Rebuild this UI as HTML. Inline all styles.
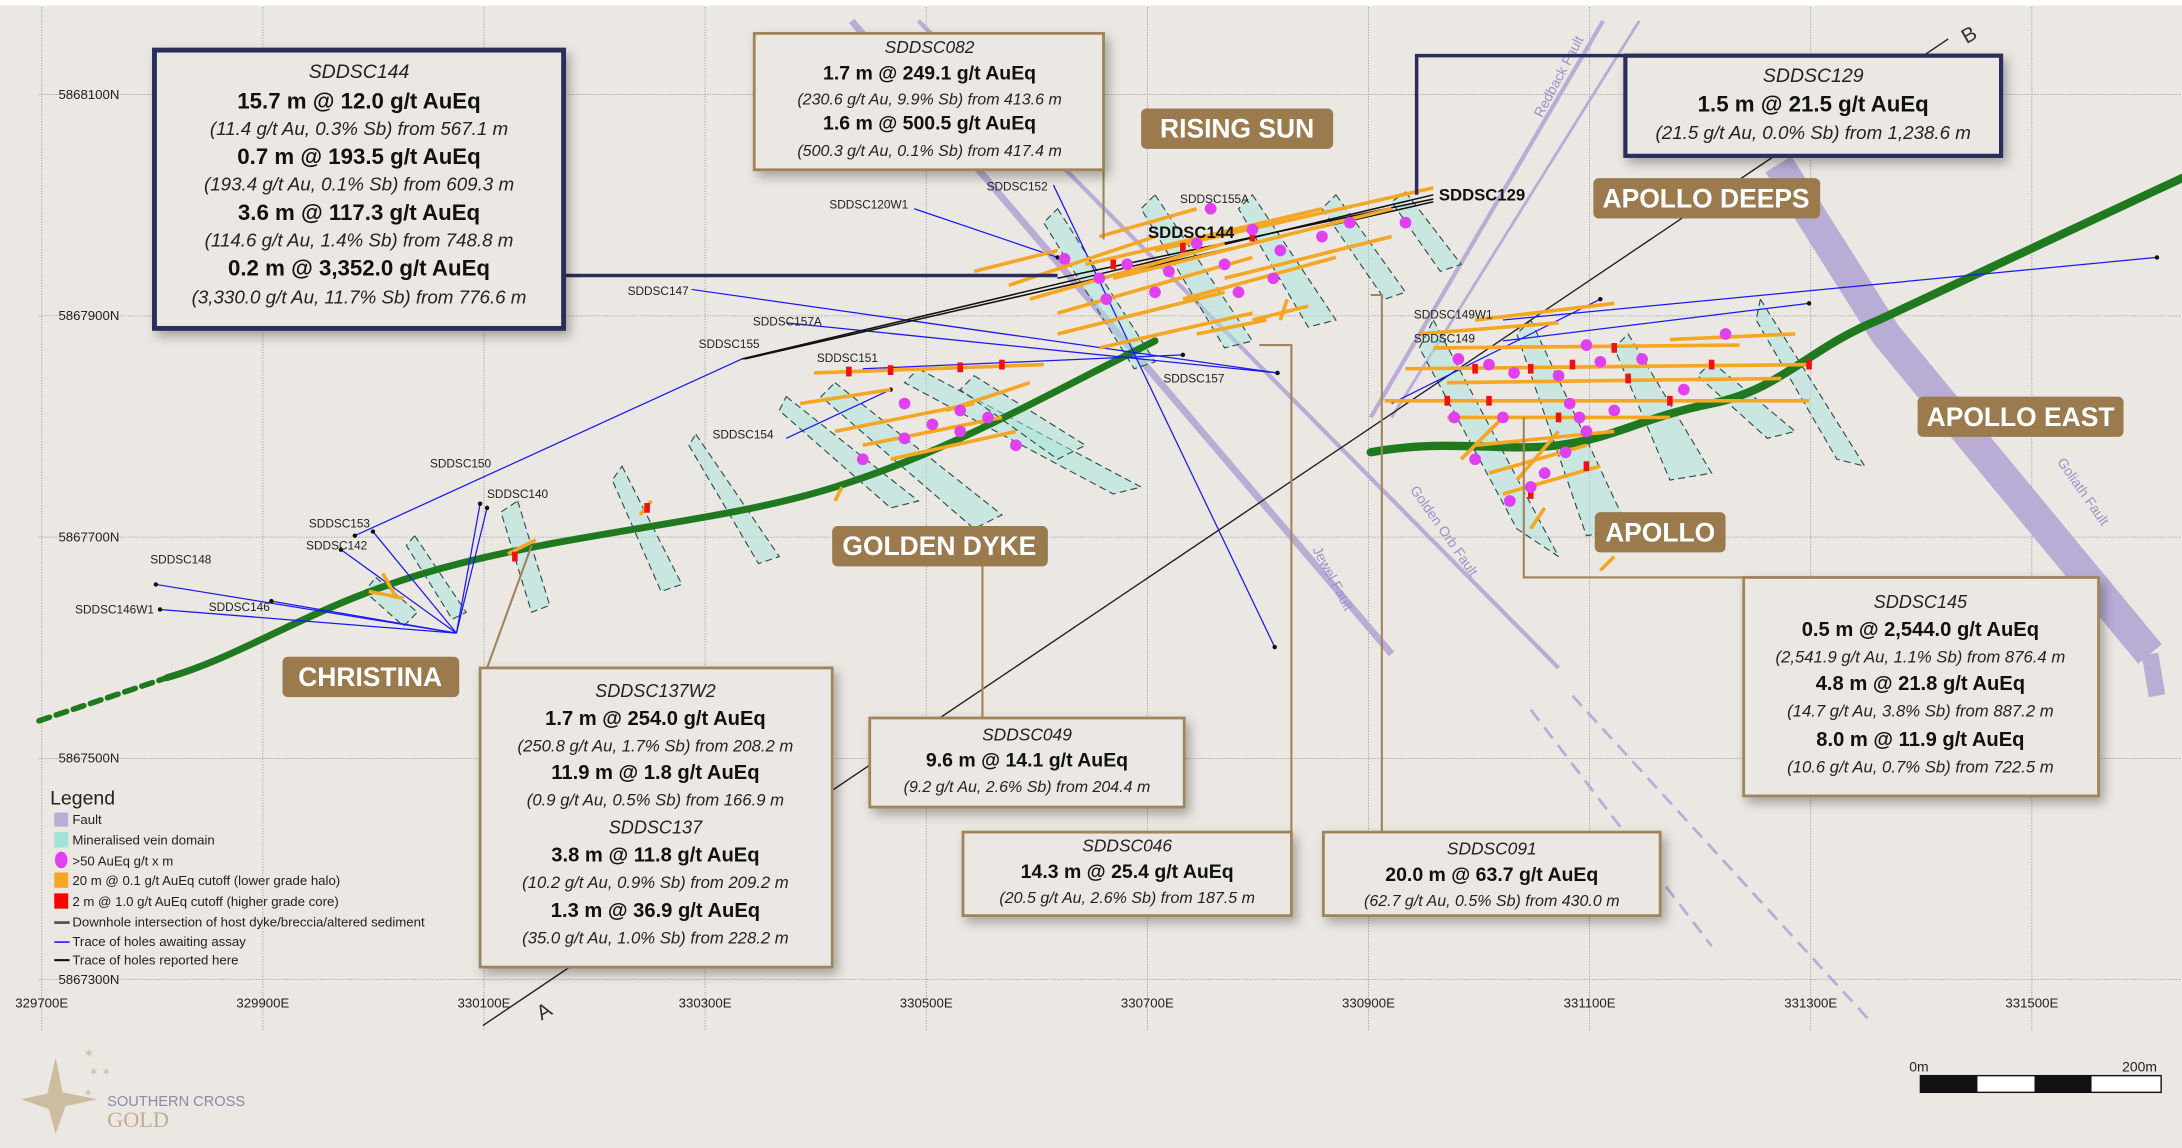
<!DOCTYPE html>
<html><head><meta charset="utf-8">
<style>
html,body{margin:0;padding:0;background:#ebe7e2;}
svg{display:block;font-family:"Liberation Sans",Arial,sans-serif;}
.b{font-weight:bold;text-anchor:middle;fill:#111;}
.i{font-style:italic;text-anchor:middle;fill:#222;}
.lbl{font-size:8.5px;fill:#222;}
.tag{font-weight:bold;fill:#fff;font-size:19px;text-anchor:middle;}
</style></head>
<body>
<svg width="2182" height="1148" viewBox="0 0 1568 825" preserveAspectRatio="none">
<defs>
<filter id="sh" x="-10%" y="-10%" width="130%" height="130%"><feDropShadow dx="3" dy="4" stdDeviation="4" flood-color="#000" flood-opacity="0.3"/></filter>
</defs>
<rect x="0" y="0" width="1568" height="825" fill="#ebe7e2"/>
<rect x="0" y="0" width="1568" height="4" fill="#fff"/>
<g id="grid"></g>
<g id="faults">
 <path d="M1278,118 L1355,240 L1545,470" stroke="#b9add6" stroke-width="22" fill="none" stroke-linejoin="round"/>
 <path d="M1545,470 L1550,500" stroke="#b9add6" stroke-width="12" fill="none"/>
 <line x1="1152" y1="15" x2="985" y2="300" stroke="#b9add6" stroke-width="3"/>
 <line x1="1178" y1="15" x2="1000" y2="300" stroke="#b9add6" stroke-width="2"/>
 <line x1="612" y1="15" x2="1000" y2="470" stroke="#b9add6" stroke-width="5"/>
 <line x1="660" y1="15" x2="1120" y2="480" stroke="#b9add6" stroke-width="3"/>
 <line x1="1130" y1="500" x2="1345" y2="735" stroke="#b9add6" stroke-width="2" stroke-dasharray="10,6"/>
 <line x1="1100" y1="510" x2="1230" y2="680" stroke="#b9add6" stroke-width="2" stroke-dasharray="10,6"/>
 <text transform="translate(1108,85) rotate(-62)" font-size="10" fill="#9e91c9">Redback Fault</text>
 <text transform="translate(943,395) rotate(62)" font-size="10" fill="#9e91c9">Jewel Fault</text>
 <text transform="translate(1013,352) rotate(55)" font-size="10" fill="#9e91c9">Golden Orb Fault</text>
 <text transform="translate(1478,332) rotate(55)" font-size="10" fill="#9e91c9">Goliath Fault</text>
</g>
<g id="veins" fill="#a8e6dd" fill-opacity="0.5" stroke="#2e4a45" stroke-width="0.8" stroke-dasharray="5,3"></g>
<g>
 <line x1="347" y1="737" x2="1400" y2="28" stroke="#222" stroke-width="1"/>
 <text x="385" y="732" font-size="15" fill="#333" transform="rotate(-30 390 725)">A</text>
 <text x="1410" y="30" font-size="15" fill="#333" transform="rotate(-30 1415 25)">B</text>
</g>
<g fill="none" stroke="#1f7a1f" stroke-linecap="round">
 <path d="M28,518 L120,487" stroke-width="4" stroke-dasharray="8,5"/>
 <path d="M120,487 C180,470 230,430 330,405 S 520,375 600,350 S 740,290 830,245" stroke-width="5"/>
 <path d="M985,325 C1040,315 1080,325 1120,320 S 1180,300 1230,290 S 1300,250 1350,230 L1568,128" stroke-width="6"/>
</g>
<g id="holes"></g>
<g id="ints"></g>
<g id="holelabels"></g>

<g fill="none">
 <line x1="405" y1="198" x2="760" y2="198" stroke="#2a2d5a" stroke-width="2.5"/>
 <path d="M1168,40 L1018,40 L1018,140" stroke="#2a2d5a" stroke-width="2.5"/>
 <path d="M793,122 L793,172" stroke="#a0845a" stroke-width="1.5"/>
 <path d="M1253,415 L1095,415 L1095,300" stroke="#a0845a" stroke-width="1.5"/>
 <path d="M350,480 L382,392" stroke="#a0845a" stroke-width="1.5"/>
 <path d="M706,516 L706,400" stroke="#a0845a" stroke-width="1.5"/>
 <path d="M928,598 L928,248 L905,248" stroke="#a0845a" stroke-width="1.5"/>
 <path d="M993,598 L993,212 L985,212" stroke="#a0845a" stroke-width="1.5"/>
</g>

<g>
 <rect x="111" y="36" width="294" height="200" fill="#ebe7e2" stroke="#2a2d5a" stroke-width="3.5" filter="url(#sh)"/>
 <text x="258" y="56" class="i" font-size="14">SDDSC144</text>
 <text x="258" y="78" class="b" font-size="16">15.7 m @ 12.0 g/t AuEq</text>
 <text x="258" y="97" class="i" font-size="13.5">(11.4 g/t Au, 0.3% Sb) from 567.1 m</text>
 <text x="258" y="118" class="b" font-size="16">0.7 m @ 193.5 g/t AuEq</text>
 <text x="258" y="137" class="i" font-size="13.5">(193.4 g/t Au, 0.1% Sb) from 609.3 m</text>
 <text x="258" y="158" class="b" font-size="16">3.6 m @ 117.3 g/t AuEq</text>
 <text x="258" y="177" class="i" font-size="13.5">(114.6 g/t Au, 1.4% Sb) from 748.8 m</text>
 <text x="258" y="198" class="b" font-size="16">0.2 m @ 3,352.0 g/t AuEq</text>
 <text x="258" y="218" class="i" font-size="13.5">(3,330.0 g/t Au, 11.7% Sb) from 776.6 m</text>
</g>
<g>
 <rect x="542" y="24" width="251" height="98" fill="#ebe7e2" stroke="#a0845a" stroke-width="2" filter="url(#sh)"/>
 <text x="668" y="38" class="i" font-size="12.5">SDDSC082</text>
 <text x="668" y="57" class="b" font-size="14">1.7 m @ 249.1 g/t AuEq</text>
 <text x="668" y="75" class="i" font-size="11.5">(230.6 g/t Au, 9.9% Sb) from 413.6 m</text>
 <text x="668" y="93" class="b" font-size="14">1.6 m @ 500.5 g/t AuEq</text>
 <text x="668" y="112" class="i" font-size="11.5">(500.3 g/t Au, 0.1% Sb) from 417.4 m</text>
</g>
<g>
 <rect x="1168" y="40" width="270" height="72" fill="#ebe7e2" stroke="#2a2d5a" stroke-width="3" filter="url(#sh)"/>
 <text x="1303" y="59" class="i" font-size="14">SDDSC129</text>
 <text x="1303" y="80" class="b" font-size="16">1.5 m @ 21.5 g/t AuEq</text>
 <text x="1303" y="100" class="i" font-size="13.5">(21.5 g/t Au, 0.0% Sb) from 1,238.6 m</text>
</g>
<g>
 <rect x="1253" y="415" width="255" height="157" fill="#ebe7e2" stroke="#a0845a" stroke-width="2" filter="url(#sh)"/>
 <text x="1380" y="437" class="i" font-size="13">SDDSC145</text>
 <text x="1380" y="457" class="b" font-size="14.5">0.5 m @ 2,544.0 g/t AuEq</text>
 <text x="1380" y="476" class="i" font-size="12">(2,541.9 g/t Au, 1.1% Sb) from 876.4 m</text>
 <text x="1380" y="496" class="b" font-size="14.5">4.8 m @ 21.8 g/t AuEq</text>
 <text x="1380" y="515" class="i" font-size="12">(14.7 g/t Au, 3.8% Sb) from 887.2 m</text>
 <text x="1380" y="536" class="b" font-size="14.5">8.0 m @ 11.9 g/t AuEq</text>
 <text x="1380" y="555" class="i" font-size="12">(10.6 g/t Au, 0.7% Sb) from 722.5 m</text>
</g>
<g>
 <rect x="345" y="480" width="253" height="215" fill="#ebe7e2" stroke="#a0845a" stroke-width="2" filter="url(#sh)"/>
 <text x="471" y="501" class="i" font-size="13">SDDSC137W2</text>
 <text x="471" y="521" class="b" font-size="14.5">1.7 m @ 254.0 g/t AuEq</text>
 <text x="471" y="540" class="i" font-size="12">(250.8 g/t Au, 1.7% Sb) from 208.2 m</text>
 <text x="471" y="560" class="b" font-size="14.5">11.9 m @ 1.8 g/t AuEq</text>
 <text x="471" y="579" class="i" font-size="12">(0.9 g/t Au, 0.5% Sb) from 166.9 m</text>
 <text x="471" y="599" class="i" font-size="13">SDDSC137</text>
 <text x="471" y="619" class="b" font-size="14.5">3.8 m @ 11.8 g/t AuEq</text>
 <text x="471" y="638" class="i" font-size="12">(10.2 g/t Au, 0.9% Sb) from 209.2 m</text>
 <text x="471" y="659" class="b" font-size="14.5">1.3 m @ 36.9 g/t AuEq</text>
 <text x="471" y="678" class="i" font-size="12">(35.0 g/t Au, 1.0% Sb) from 228.2 m</text>
</g>
<g>
 <rect x="625" y="516" width="226" height="64" fill="#ebe7e2" stroke="#a0845a" stroke-width="2" filter="url(#sh)"/>
 <text x="738" y="532" class="i" font-size="12.5">SDDSC049</text>
 <text x="738" y="551" class="b" font-size="14">9.6 m @ 14.1 g/t AuEq</text>
 <text x="738" y="569" class="i" font-size="11.5">(9.2 g/t Au, 2.6% Sb) from 204.4 m</text>
</g>
<g>
 <rect x="692" y="598" width="236" height="60" fill="#ebe7e2" stroke="#a0845a" stroke-width="2" filter="url(#sh)"/>
 <text x="810" y="612" class="i" font-size="12.5">SDDSC046</text>
 <text x="810" y="631" class="b" font-size="14">14.3 m @ 25.4 g/t AuEq</text>
 <text x="810" y="649" class="i" font-size="11.5">(20.5 g/t Au, 2.6% Sb) from 187.5 m</text>
</g>
<g>
 <rect x="951" y="598" width="242" height="60" fill="#ebe7e2" stroke="#a0845a" stroke-width="2" filter="url(#sh)"/>
 <text x="1072" y="614" class="i" font-size="12.5">SDDSC091</text>
 <text x="1072" y="633" class="b" font-size="14">20.0 m @ 63.7 g/t AuEq</text>
 <text x="1072" y="651" class="i" font-size="11.5">(62.7 g/t Au, 0.5% Sb) from 430.0 m</text>
</g>

<g>
 <g><rect x="820" y="78" width="138" height="29" rx="4" fill="#9b7b4e"/><text x="889" y="99" class="tag">RISING SUN</text></g>
 <g><rect x="1145" y="128" width="163" height="29" rx="4" fill="#9b7b4e"/><text x="1226" y="149" class="tag">APOLLO DEEPS</text></g>
 <g><rect x="1378" y="285" width="148" height="29" rx="4" fill="#9b7b4e"/><text x="1452" y="306" class="tag">APOLLO EAST</text></g>
 <g><rect x="1146" y="368" width="94" height="29" rx="4" fill="#9b7b4e"/><text x="1193" y="389" class="tag">APOLLO</text></g>
 <g><rect x="598" y="378" width="155" height="29" rx="4" fill="#9b7b4e"/><text x="675" y="399" class="tag">GOLDEN DYKE</text></g>
 <g><rect x="203" y="472" width="127" height="29" rx="4" fill="#9b7b4e"/><text x="266" y="493" class="tag">CHRISTINA</text></g>
</g>

<g font-size="9.5" fill="#222">
 <text x="36" y="578" font-size="14">Legend</text>
 <rect x="39" y="584" width="10" height="10" fill="#b9add6"/><text x="52" y="592">Fault</text>
 <rect x="39" y="598" width="10" height="11" fill="#9fe3da"/><text x="52" y="607">Mineralised vein domain</text>
 <ellipse cx="44" cy="618" rx="4.5" ry="6" fill="#e040f0"/><text x="52" y="622">&gt;50 AuEq g/t x m</text>
 <rect x="39" y="627" width="10" height="11" fill="#f5a623"/><text x="52" y="636">20 m @ 0.1 g/t AuEq cutoff (lower grade halo)</text>
 <rect x="39" y="642" width="10" height="11" fill="#f00"/><text x="52" y="651">2 m @ 1.0 g/t AuEq cutoff (higher grade core)</text>
 <line x1="39" y1="663" x2="50" y2="663" stroke="#555" stroke-width="2"/><text x="52" y="666">Downhole intersection of host dyke/breccia/altered sediment</text>
 <line x1="39" y1="677" x2="50" y2="677" stroke="#0000ee" stroke-width="1"/><text x="52" y="680">Trace of holes awaiting assay</text>
 <line x1="39" y1="690" x2="50" y2="690" stroke="#111" stroke-width="1.5"/><text x="52" y="693">Trace of holes reported here</text>
</g>

<g>
 <polygon points="40,760 45,785 70,790 47,795 40,815 35,797 15,790 34,786" fill="#cdbda0"/>
 <text x="60" y="760" font-size="9" fill="#cdbda0">✶</text><text x="64" y="773" font-size="8" fill="#cdbda0">✶ ✶</text><text x="60" y="788" font-size="8" fill="#cdbda0">✶</text>
 <text x="77" y="795" font-size="10.5" fill="#8a89a8">SOUTHERN CROSS</text>
 <text x="77" y="810" font-size="16" fill="#c2ae8c" font-family="Liberation Serif,serif">GOLD</text>
</g>
<g>
 <text x="1372" y="770" font-size="10" fill="#222">0m</text>
 <text x="1525" y="770" font-size="10" fill="#222">200m</text>
 <rect x="1380" y="773" width="173" height="12" fill="#fff" stroke="#111" stroke-width="1"/>
 <rect x="1380" y="773" width="41" height="12" fill="#111"/>
 <rect x="1462" y="773" width="41" height="12" fill="#111"/>
</g>

<script>
var eastTicks=[329700,329900,330100,330300,330500,330700,330900,331100,331300,331500];
var northTicks=[5868100,5867900,5867700,5867500,5867300];
function xE(e){return 30+(e-329700)/200*158.9;}
function yN(n){return 68+(5868100-n)/200*159;}
var NS='http://www.w3.org/2000/svg';
function mk(tag,attrs,parent){var el=document.createElementNS(NS,tag);for(var k in attrs)el.setAttribute(k,attrs[k]);parent.appendChild(el);return el;}
var grid=document.getElementById('grid');
eastTicks.forEach(function(e){
  var x=xE(e);
  var l=mk('line',{x1:x,y1:5,x2:x,y2:740,stroke:'#9a9a9a','stroke-width':0.6,'stroke-dasharray':'1,1'},grid);
  
  
  var t=mk('text',{x:x,y:724,'font-size':9.5,'text-anchor':'middle',fill:'#222'},grid);
  t.textContent=e+'E';
  
  
});
northTicks.forEach(function(n){
  var y=yN(n);
  var l=mk('line',{x1:28,y1:y,x2:1568,y2:y,stroke:'#9a9a9a','stroke-width':0.6,'stroke-dasharray':'1,1'},grid);
  
  
  var t=mk('text',{x:42,y:y+3,'font-size':9.5,fill:'#222'},grid);
  t.textContent=n+'N';
  
  
});
var veinPolys=[
 [[270,415],[300,440],[290,450],[262,425]],[[298,385],[335,440],[325,445],[292,392]],[[372,360],[395,435],[382,440],[360,368]],
 [[447,335],[490,420],[475,425],[440,345]],[[500,312],[560,400],[545,405],[495,320]],[[565,285],[660,360],[640,365],[560,295]],
 [[600,275],[720,370],[700,380],[590,285]],[[660,265],[820,350],[800,355],[650,275]],[[700,270],[780,320],[760,330],[690,280]],
 [[760,150],[830,260],[815,265],[750,160]],[[830,140],[900,245],[880,250],[820,150]],[[900,140],[960,230],[940,235],[890,150]],
 [[960,140],[1010,210],[995,215],[950,150]],[[1010,138],[1050,190],[1035,195],[1000,145]],
 [[1030,230],[1120,400],[1090,380],[1020,250]],[[1100,230],[1170,380],[1140,385],[1090,240]],[[1170,240],[1230,340],[1200,345],[1160,250]],
 [[1265,215],[1340,335],[1320,330],[1262,230]],[[1230,260],[1290,310],[1270,315],[1220,270]]
];
var vg=document.getElementById('veins');
veinPolys.forEach(function(p){
  var el=mk('polygon',{points:p.map(function(q){return q.join(',');}).join(' ')},vg);
  
  
});
var blueHoles=[[328,455,112,420],[328,455,115,438],[328,455,195,432],[328,455,245,395],[328,455,268,382],[328,455,345,362],[328,455,350,365],
 [533,258,255,385],[497,208,918,268],[565,232,918,268],[657,150,760,185],[757,133,916,465],[620,265,850,255],[565,315,640,280],
 [1080,230,1550,185],[1080,245,1300,218],[1000,290,1150,215]];
var blackHoles=[[533,258,1030,140],[535,258,1030,145],[760,200,1030,143]];
var hg=document.getElementById('holes');
blueHoles.forEach(function(h){
  var el=mk('line',{x1:h[0],y1:h[1],x2:h[2],y2:h[3],stroke:'#1a1aee','stroke-width':0.9},hg);
  
  
  mk('circle',{cx:h[2],cy:h[3],r:1.6,fill:'#111'},hg);
});
blackHoles.forEach(function(h){
  var el=mk('line',{x1:h[0],y1:h[1],x2:h[2],y2:h[3],stroke:'#111','stroke-width':1.1},hg);
  
  
});
var orangeBars=[[725,205,830,170],[740,215,880,175],[760,225,900,185],[780,190,950,150],[800,200,1000,150],[830,180,1030,135],
 [760,240,880,210],[790,250,900,225],[850,215,960,185],[880,200,1000,170],[700,195,760,180],[900,230,940,220],[860,240,910,230],[790,170,860,150],
 [585,268,750,262],[600,310,700,290],[620,320,720,300],[640,330,730,310],[575,290,640,280],[680,295,740,275],
 [995,288,1300,288],[1010,265,1300,262],[1030,250,1250,248],[1040,275,1280,272],[1040,300,1200,300],[1020,240,1120,232],
 [1060,320,1160,310],[1070,340,1140,320],[1080,355,1150,335],[1060,230,1160,218],[1200,244,1290,240],[1090,345,1120,310],[1050,330,1080,300],
 [265,425,290,430],[275,412,285,430],[365,398,385,388],[460,370,468,360],[1100,380,1110,365],[1150,410,1160,400],[920,230,925,215],[600,360,605,350]];
var redDots=[[370,400],[465,365],[610,267],[640,266],[690,264],[720,262],[800,190],[850,178],[900,170],[1040,288],[1070,288],[1100,265],[1130,262],[1160,250],[1200,288],[1120,300],[1140,335],[1100,355],[1230,262],[1300,262],[1170,272],[1060,265]];
var magDots=[[765,186],[790,200],[810,190],[840,195],[860,175],[880,190],[900,165],[920,180],[950,170],[970,160],[830,210],[795,215],[915,200],[890,210],[1010,160],[870,150],
 [620,330],[650,315],[670,305],[690,310],[710,300],[730,320],[650,290],[690,295],
 [1048,258],[1070,262],[1088,268],[1120,270],[1140,248],[1150,260],[1128,290],[1135,300],[1160,295],[1140,310],[1125,325],[1110,340],[1100,350],[1085,360],[1060,330],[1045,300],[1180,258],[1210,280],[1240,240],[1080,300]];
var ig=document.getElementById('ints');
orangeBars.forEach(function(b){
  var el=mk('line',{x1:b[0],y1:b[1],x2:b[2],y2:b[3],stroke:'#f5a623','stroke-width':2.6},ig);
  
  
});
redDots.forEach(function(d){
  var el=mk('rect',{x:d[0]-2,y:d[1]-3.5,width:4,height:7,fill:'#ee1111'},ig);
  
  
});
magDots.forEach(function(d){
  var el=mk('circle',{cx:d[0],cy:d[1],r:4.2,fill:'#e040f0'},ig);
  
  
});
var holeNames=['SDDSC148','SDDSC146W1','SDDSC146','SDDSC142','SDDSC153','SDDSC150','SDDSC140','SDDSC147','SDDSC157A','SDDSC155','SDDSC151','SDDSC154','SDDSC120W1','SDDSC152','SDDSC155A','SDDSC157','SDDSC149W1','SDDSC149'];
var holeLabelPos=[[108,405],[54,441],[150,439],[220,395],[222,379],[309,336],[350,358],[451,212],[541,234],[502,250],[587,260],[512,315],[596,150],[709,137],[848,146],[836,275],[1016,229],[1016,246]];
var lg=document.getElementById('holelabels');
holeNames.forEach(function(n,i){
  var t=mk('text',{x:holeLabelPos[i][0],y:holeLabelPos[i][1],'class':'lbl'},lg);
  t.textContent=n;
  
  
});
var t1=mk('text',{x:825,y:171,'font-size':12,'font-weight':'bold',fill:'#111'},lg);
t1.textContent='SDDSC144';


var t2=mk('text',{x:1034,y:144,'font-size':12,'font-weight':'bold',fill:'#111'},lg);
t2.textContent='SDDSC129';


</script>
</svg>
</body></html>
